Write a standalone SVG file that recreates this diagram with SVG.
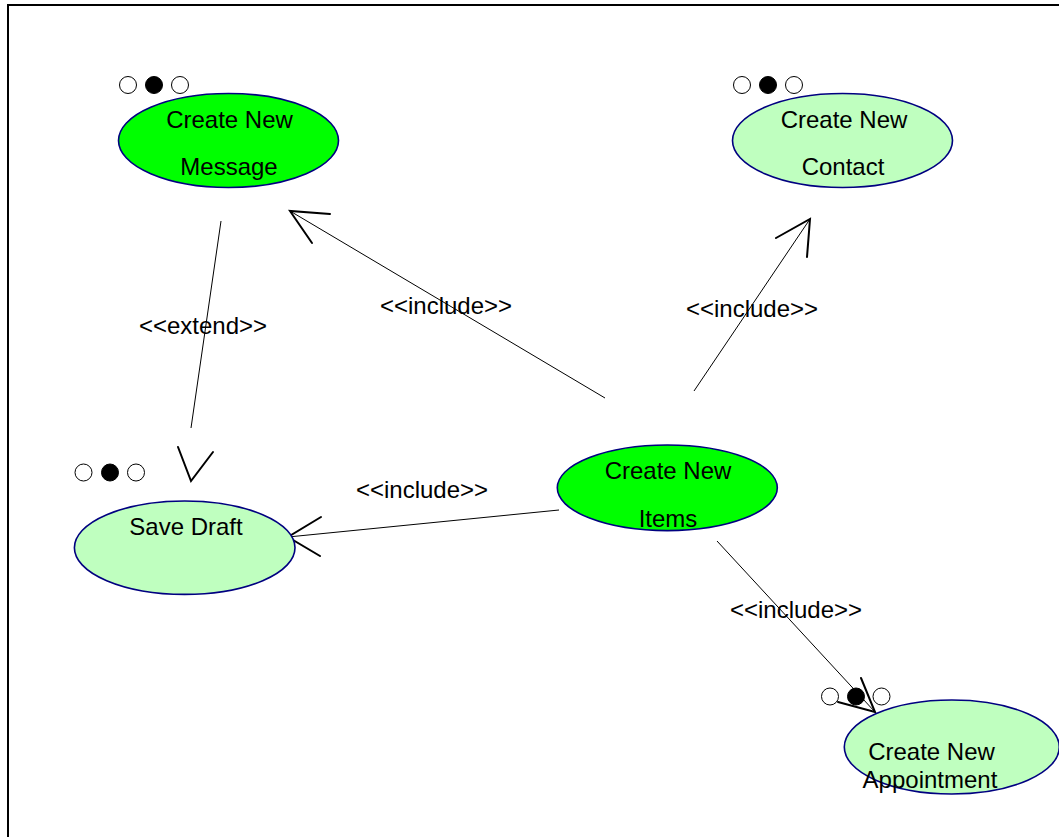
<svg xmlns="http://www.w3.org/2000/svg" width="1059" height="837" viewBox="0 0 1059 837">
  <style>
    .uc { stroke: #000080; stroke-width: 1.6; }
    .uc-main { fill: #00ff00; }
    .uc-sub { fill: #bfffbf; }
    .lbl { font-family: "Liberation Sans", Arial, sans-serif; font-size: 24px; fill: #000; text-anchor: middle; }
    .dot { fill: #fff; stroke: #000; stroke-width: 1; }
    .dot-on { fill: #000; stroke: #000; stroke-width: 1; }
    .conn { stroke: #000; stroke-width: 1; fill: none; }
    .head { stroke: #000; stroke-width: 2; fill: none; stroke-linecap: round; }
  </style>

  <rect x="0" y="0" width="1059" height="837" fill="#fff"/>
  <!-- frame: top and left edges only, the rest runs off the page -->
  <path d="M8,837 L8,5 L1059,5" fill="none" stroke="#000" stroke-width="2"/>

  <g id="connectors">
    <!-- extend: Save Draft -> Create New Message -->
    <line class="conn" x1="221" y1="221" x2="191" y2="428"/>
    <polyline class="head" points="178,447 191,481 213,452"/>
    <text class="lbl" x="203" y="334">&lt;&lt;extend&gt;&gt;</text>

    <!-- include: Items -> Create New Message -->
    <line class="conn" x1="605" y1="398" x2="290" y2="211"/>
    <polyline class="head" points="330,214 290,211 312,243"/>
    <text class="lbl" x="446" y="314">&lt;&lt;include&gt;&gt;</text>

    <!-- include: Items -> Create New Contact -->
    <line class="conn" x1="694" y1="391" x2="810" y2="219"/>
    <polyline class="head" points="776,238 810,219 807,257"/>
    <text class="lbl" x="752" y="317">&lt;&lt;include&gt;&gt;</text>

    <!-- include: Items -> Save Draft -->
    <line class="conn" x1="559" y1="510" x2="288" y2="537"/>
    <polyline class="head" points="321,517 288,537 320,556"/>
    <text class="lbl" x="422" y="498">&lt;&lt;include&gt;&gt;</text>

    <!-- include: Items -> Create New Appointment -->
    <line class="conn" x1="717" y1="541" x2="875" y2="712"/>
    <polyline class="head" points="861,678 875,712 838,702"/>
    <text class="lbl" x="796" y="618">&lt;&lt;include&gt;&gt;</text>
  </g>

  <g id="create-new-message">
    <circle class="dot" cx="128" cy="85" r="8.5"/>
    <circle class="dot-on" cx="154" cy="85" r="8.5"/>
    <circle class="dot" cx="180" cy="85" r="8.5"/>
    <ellipse class="uc uc-main" cx="228.5" cy="140.5" rx="110" ry="47"/>
    <text class="lbl" x="229.5" y="128">Create New</text>
    <text class="lbl" x="229" y="175">Message</text>
  </g>

  <g id="create-new-contact">
    <circle class="dot" cx="742" cy="85" r="8.5"/>
    <circle class="dot-on" cx="768" cy="85" r="8.5"/>
    <circle class="dot" cx="794" cy="85" r="8.5"/>
    <ellipse class="uc uc-sub" cx="842.5" cy="140.5" rx="110" ry="47"/>
    <text class="lbl" x="844" y="128">Create New</text>
    <text class="lbl" x="843" y="175">Contact</text>
  </g>

  <g id="save-draft">
    <circle class="dot" cx="83.5" cy="472.5" r="8.5"/>
    <circle class="dot-on" cx="110" cy="472.5" r="8.5"/>
    <circle class="dot" cx="136" cy="472.5" r="8.5"/>
    <ellipse class="uc uc-sub" cx="184.7" cy="547.7" rx="110.3" ry="46.7"/>
    <text class="lbl" x="186" y="535">Save Draft</text>
  </g>

  <g id="create-new-items">
    <ellipse class="uc uc-main" cx="667.3" cy="487.8" rx="110" ry="42.8"/>
    <text class="lbl" x="668" y="479">Create New</text>
    <text class="lbl" x="668" y="527">Items</text>
  </g>

  <g id="create-new-appointment">
    <ellipse class="uc uc-sub" cx="951.8" cy="747" rx="107.5" ry="47"/>
    <circle class="dot" cx="830" cy="696.5" r="8.5"/>
    <circle class="dot-on" cx="856" cy="696.5" r="8.5"/>
    <circle class="dot" cx="881.5" cy="696.5" r="8.5"/>
    <text class="lbl" x="931.5" y="760">Create New</text>
    <text class="lbl" x="930" y="788">Appointment</text>
  </g>
</svg>
